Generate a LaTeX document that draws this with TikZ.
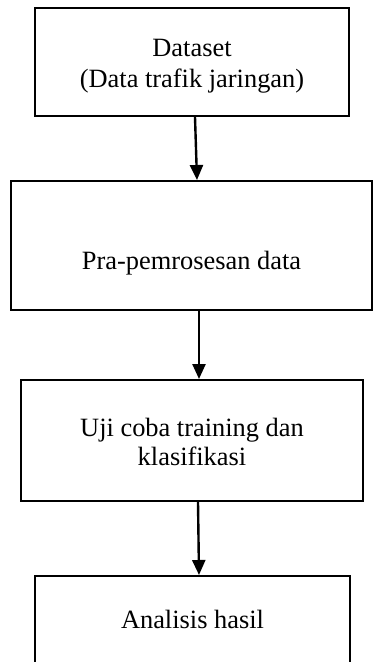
\documentclass[tikz,border=0pt]{standalone}
\usepackage{fontspec}
\setmainfont{Liberation Serif}
\usetikzlibrary{arrows.meta}

\begin{document}
\begin{tikzpicture}[x=1pt, y=-1pt,
        stepbox/.style={draw, line width=2pt, align=center, inner sep=0pt,
            font=\fontsize{26.4}{31}\selectfont},
        flow/.style={-{Triangle[width=13pt, length=15pt]}, line width=2.4pt}]
        \useasboundingbox (0, 0) rectangle (374, 662);

        \node [stepbox, minimum width=314pt, minimum height=108pt, text height=50pt, text depth=0pt] (dataset) at (192, 62) {Dataset\\(Data trafik jaringan)};
        \node [stepbox, minimum width=361pt, minimum height=129pt, text height=47pt, text depth=0pt] (prapros) at (191.5, 245.5) {Pra-pemrosesan data};
        \node [stepbox, minimum width=342pt, minimum height=121pt, text height=49pt, text depth=0pt] (ujicoba) at (192, 440.5) {Uji coba training dan\\[-2pt]klasifikasi};
        \node [stepbox, minimum width=315pt, minimum height=88pt, text height=16pt, text depth=0pt] (analisis) at (192.5, 620) {Analisis hasil};

        \draw [flow] ([xshift=3pt]dataset.south) -- ([xshift=5.5pt]prapros.north);
        \draw [flow] ([xshift=7.5pt]prapros.south) -- ([xshift=7pt]ujicoba.north);
        \draw [flow] ([xshift=6pt]ujicoba.south) -- ([xshift=6.5pt]analisis.north);
    \end{tikzpicture}
\end{document}
